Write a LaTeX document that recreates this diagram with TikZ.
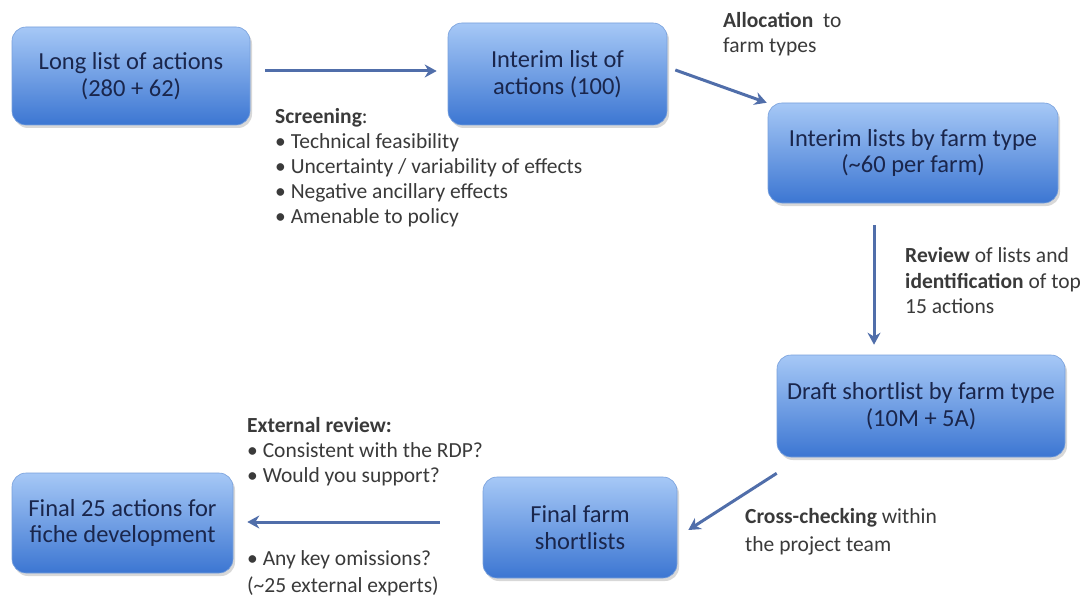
\documentclass[tikz,border=0pt]{standalone}
\usepackage{fontspec}
\setmainfont{Carlito}
\usetikzlibrary{shadows,arrows.meta,calc}
\definecolor{boxtop}{RGB}{166,200,246}
\definecolor{boxbot}{RGB}{60,118,210}
\definecolor{boxtext}{RGB}{26,38,76}
\definecolor{lbl}{RGB}{58,58,58}
\definecolor{arrc}{RGB}{80,110,170}
\definecolor{boxedge}{RGB}{120,160,220}
\tikzset{
 stage/.style={rectangle, rounded corners=14pt, draw=boxedge, line width=0.6pt,
   top color=boxtop, bottom color=boxbot, text=boxtext, align=center,
   font=\fontsize{24.5}{26.5}\selectfont,
   drop shadow={opacity=0.3, shadow xshift=2pt, shadow yshift=-3pt}, inner sep=0pt},
 lab/.style={anchor=north west, align=left, text=lbl, font=\fontsize{21.5}{25}\selectfont, inner sep=0pt},
 flow/.style={draw=arrc, line width=3pt, -{Stealth[length=12pt,width=13pt]}},
}
\begin{document}
\begin{tikzpicture}[x=1pt,y=-1pt]
\useasboundingbox[fill=white] (0,0) rectangle (1091,596);
\node[stage, minimum width=238pt, minimum height=98pt] (b1) at (131,76) {Long list of actions\\(280 + 62)};
\node[stage, minimum width=219pt, minimum height=102pt] (b2) at (557.5,74) {Interim list of\\actions (100)};
\node[stage, minimum width=290pt, minimum height=100pt] (b3) at (913,153) {Interim lists by farm type\\(\textasciitilde 60 per farm)};
\node[stage, minimum width=288pt, minimum height=102pt] (b4) at (921,406) {Draft shortlist by farm type\\(10M + 5A)};
\node[stage, minimum width=194pt, minimum height=101pt] (b5) at (580,527.5) {Final farm\\shortlists};
\node[stage, minimum width=221pt, minimum height=100pt] (b6) at (122.5,523) {Final 25 actions for\\fiche development};

\draw[flow] ($(b1.east)+(15,-5)$) -- ($(b2.west)+(-11,-3)$);
\draw[flow] ($(b2.east)+(8,-4)$) -- ($(b3.north west)+(-1,0)$);
\draw[flow] ($(b3.south)+(-39,22)$) -- ($(b4.north)+(-47,-10)$);
\draw[flow] ($(b4.south west)+(0,16)$) -- ($(b5.east)+(11,2.5)$);
\draw[flow] ($(b5.west)+(-43,-5.5)$) -- ($(b6.east)+(14,-1)$);

\node[lab] (screen) at (275,108.5) {\textbf{Screening}:\\ • Technical feasibility\\ • Uncertainty / variability of effects\\ • Negative ancillary effects\\ • Amenable to policy};
\node[lab] (alloc) at (723,12.5) {\textbf{Allocation}~ to\\farm types};
\node[lab, font=\fontsize{21.5}{25.5}\selectfont] (review) at (905,247.5) {\textbf{Review} of lists and\\\textbf{identification} of top\\15 actions};
\node[lab, font=\fontsize{21.5}{28}\selectfont] (cross) at (745,508.5) {\textbf{Cross-checking} within\\the project team};
\node[lab] (ext) at (247,417.5) {\textbf{External review:}\\• Consistent with the RDP?\\• Would you support?};
\node[lab, font=\fontsize{21.5}{27}\selectfont] (omit) at (247,550.5) {• Any key omissions?\\(\textasciitilde 25 external experts)};
\end{tikzpicture}
\end{document}
